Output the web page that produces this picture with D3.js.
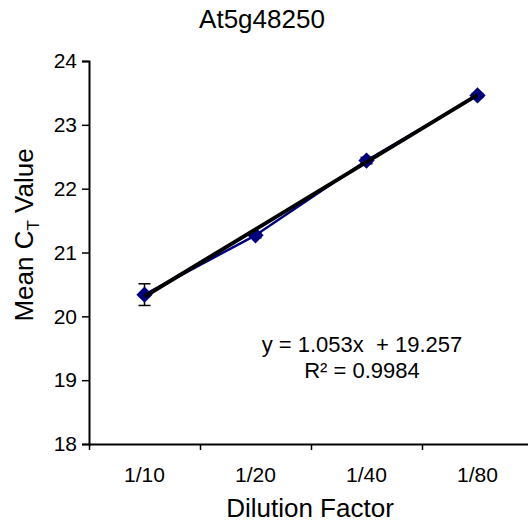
<!DOCTYPE html>
<html>
<head>
<meta charset="utf-8">
<script src="https://cdn.jsdelivr.net/npm/d3@7"></script>
<style>
  body { margin: 0; background: #fff; }
  text { font-family: "Liberation Sans", Arial, sans-serif; fill: #000; }
</style>
</head>
<body>
<svg width="528" height="526" id="mainsvg"></svg>
<script>
const categories = ['1/10', '1/20', '1/40', '1/80'];
const meanCt = [20.34, 21.27, 22.44, 23.46];
const errCt = [0.17, 0.04, 0.05, 0.03];
const yTicks = [18, 19, 20, 21, 22, 23, 24];
const slope = 1.053, intercept = 19.257;

const svg = d3.select('svg');
const plotLeft = 89, plotRight = 533, plotTop = 61, plotBottom = 444;

// x: category index, bands between tick marks
const x = d3.scaleLinear().domain([0, categories.length]).range([plotLeft, plotRight]);
const y = d3.scaleLinear().domain([18, 24]).range([plotBottom, plotTop]);
const cx = i => x(i + 0.5);

// y axis
const yAxis = svg.append('g').attr('transform', `translate(${plotLeft},0)`)
  .call(d3.axisLeft(y).tickValues(yTicks).tickSize(7).tickPadding(5).tickFormat(d3.format('d')));
yAxis.selectAll('text').style('font-size', '21px').attr('font-family', null);
yAxis.select('.domain').attr('stroke-width', 2);
yAxis.selectAll('.tick line').attr('stroke-width', 1.5);

// x axis (ticks between categories)
const xAxis = svg.append('g').attr('transform', `translate(0,${plotBottom})`)
  .call(d3.axisBottom(x).tickValues(d3.range(categories.length + 1)).tickSize(6).tickSizeOuter(0).tickFormat(''));
xAxis.select('.domain').attr('stroke-width', 2);
xAxis.selectAll('.tick line').attr('stroke-width', 1.5);

svg.append('g').selectAll('text').data(categories).join('text')
  .attr('x', (d, i) => cx(i)).attr('y', 482)
  .attr('text-anchor', 'middle').style('font-size', '21px')
  .text(d => d);

// series line
svg.append('path')
  .datum(meanCt)
  .attr('fill', 'none').attr('stroke', '#000080').attr('stroke-width', 2.5)
  .attr('d', d3.line().x((d, i) => cx(i)).y(d => y(d)));

// error bars
const eb = svg.append('g').selectAll('g').data(meanCt).join('g');
eb.append('line')
  .attr('x1', (d, i) => cx(i)).attr('x2', (d, i) => cx(i))
  .attr('y1', (d, i) => y(d - errCt[i])).attr('y2', (d, i) => y(d + errCt[i]))
  .attr('stroke', '#000').attr('stroke-width', 1.5);
['-', '+'].forEach(s => {
  eb.append('line')
    .attr('x1', (d, i) => cx(i) - 6).attr('x2', (d, i) => cx(i) + 6)
    .attr('y1', (d, i) => y(s === '+' ? d + errCt[i] : d - errCt[i]))
    .attr('y2', (d, i) => y(s === '+' ? d + errCt[i] : d - errCt[i]))
    .attr('stroke', '#000').attr('stroke-width', 1.5);
});

// markers
svg.append('g').selectAll('path').data(meanCt).join('path')
  .attr('transform', (d, i) => `translate(${cx(i)},${y(d)}) rotate(45)`)
  .attr('d', 'M-5,-5H5V5H-5Z')
  .attr('fill', '#000080').attr('stroke', '#000080').attr('stroke-width', 1.5);

// linear trendline
svg.append('line')
  .attr('x1', cx(0)).attr('y1', y(slope * 1 + intercept))
  .attr('x2', cx(3)).attr('y2', y(slope * 4 + intercept))
  .attr('stroke', '#000').attr('stroke-width', 4);

// equation
svg.append('text').attr('x', 362).attr('y', 352).attr('text-anchor', 'middle')
  .style('font-size', '22px').style('white-space', 'pre')
  .text(`y = ${slope}x  + ${intercept}`);
svg.append('text').attr('x', 362).attr('y', 378).attr('text-anchor', 'middle')
  .style('font-size', '22px').text('R² = 0.9984');

// titles
svg.append('text').attr('x', 262).attr('y', 28).attr('text-anchor', 'middle')
  .style('font-size', '26px').text('At5g48250');
svg.append('text').attr('x', 310).attr('y', 517).attr('text-anchor', 'middle')
  .style('font-size', '26px').text('Dilution Factor');
const yl = svg.append('text')
  .attr('transform', `translate(33,235) rotate(-90)`)
  .attr('text-anchor', 'middle').style('font-size', '26px');
yl.append('tspan').text('Mean C');
yl.append('tspan').attr('dy', 6).style('font-size', '17px').text('T');
yl.append('tspan').attr('dy', -6).text(' Value');
</script>
</body>
</html>
